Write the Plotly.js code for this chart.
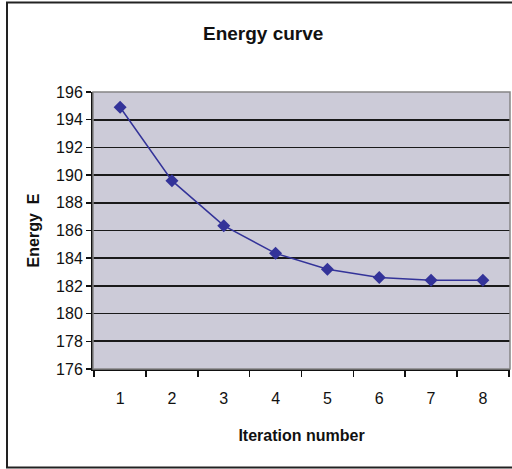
<!DOCTYPE html>
<html>
<head>
<meta charset="utf-8">
<script src="https://cdn.plot.ly/plotly-3.0.1.min.js"></script>
<style>
  html, body { margin: 0; padding: 0; background: #ffffff; }
  #chart { width: 512px; height: 469px; }
</style>
</head>
<body>
<div id="chart"></div>
<script>
const iterations = ["1", "2", "3", "4", "5", "6", "7", "8"];
const energy = [194.9, 189.6, 186.35, 184.35, 183.2, 182.6, 182.4, 182.4];
const yTicks = [176, 178, 180, 182, 184, 186, 188, 190, 192, 194, 196];

const FONT = "Liberation Sans, Arial, sans-serif";

const trace = {
  x: iterations,
  y: energy,
  type: "scatter",
  mode: "lines+markers",
  line: { color: "#333399", width: 1.5 },
  marker: { symbol: "diamond", size: 10, color: "#333399" },
  hoverinfo: "x+y"
};

const layout = {
  width: 512,
  height: 469,
  margin: { l: 93, r: 2, t: 92, b: 100 },
  paper_bgcolor: "#ffffff",
  plot_bgcolor: "#cccbd8",
  showlegend: false,
  title: {
    text: "<b>Energy curve</b>",
    font: { family: FONT, size: 19, color: "#111111" },
    x: 0.514, xanchor: "center",
    y: 1 - 33 / 469, yanchor: "middle"
  },
  xaxis: {
    type: "category",
    tickson: "boundaries",
    ticks: "outside",
    ticklen: 6,
    tickwidth: 1.5,
    tickcolor: "#111111",
    showgrid: false,
    showline: true,
    linecolor: "#111111",
    linewidth: 2,
    zeroline: false,
    tickfont: { family: FONT, size: 16, color: "#111111" },
    ticklabelstandoff: 14,
    title: {
      text: "<b>Iteration number</b>",
      font: { family: FONT, size: 16, color: "#111111" },
      standoff: 24
    },
    fixedrange: true
  },
  yaxis: {
    range: [176, 196],
    tickvals: yTicks,
    ticktext: yTicks.map(String),
    ticks: "outside",
    ticklen: 5,
    tickwidth: 1.5,
    tickcolor: "#111111",
    showgrid: true,
    gridcolor: "#1a1a1a",
    gridwidth: 1.6,
    showline: true,
    linecolor: "#111111",
    linewidth: 2,
    zeroline: false,
    tickfont: { family: FONT, size: 16, color: "#111111" },
    title: {
      text: "<b>Energy  E</b>",
      font: { family: FONT, size: 16, color: "#111111" },
      standoff: 12
    },
    fixedrange: true
  },
  shapes: [
    {
      type: "rect", xref: "paper", yref: "paper",
      x0: 0, x1: 1, y0: 0, y1: 1,
      line: { color: "#858585", width: 1.5 },
      layer: "above"
    },
    {
      type: "rect", xref: "paper", yref: "paper",
      x0: -86 / 417, x1: 1.2, y0: (369 - 467.5) / 277, y1: (369 - 2.5) / 277,
      line: { color: "#222222", width: 2 },
      layer: "below"
    }
  ]
};

Plotly.newPlot("chart", [trace], layout, { displayModeBar: false, staticPlot: true });
</script>
</body>
</html>
